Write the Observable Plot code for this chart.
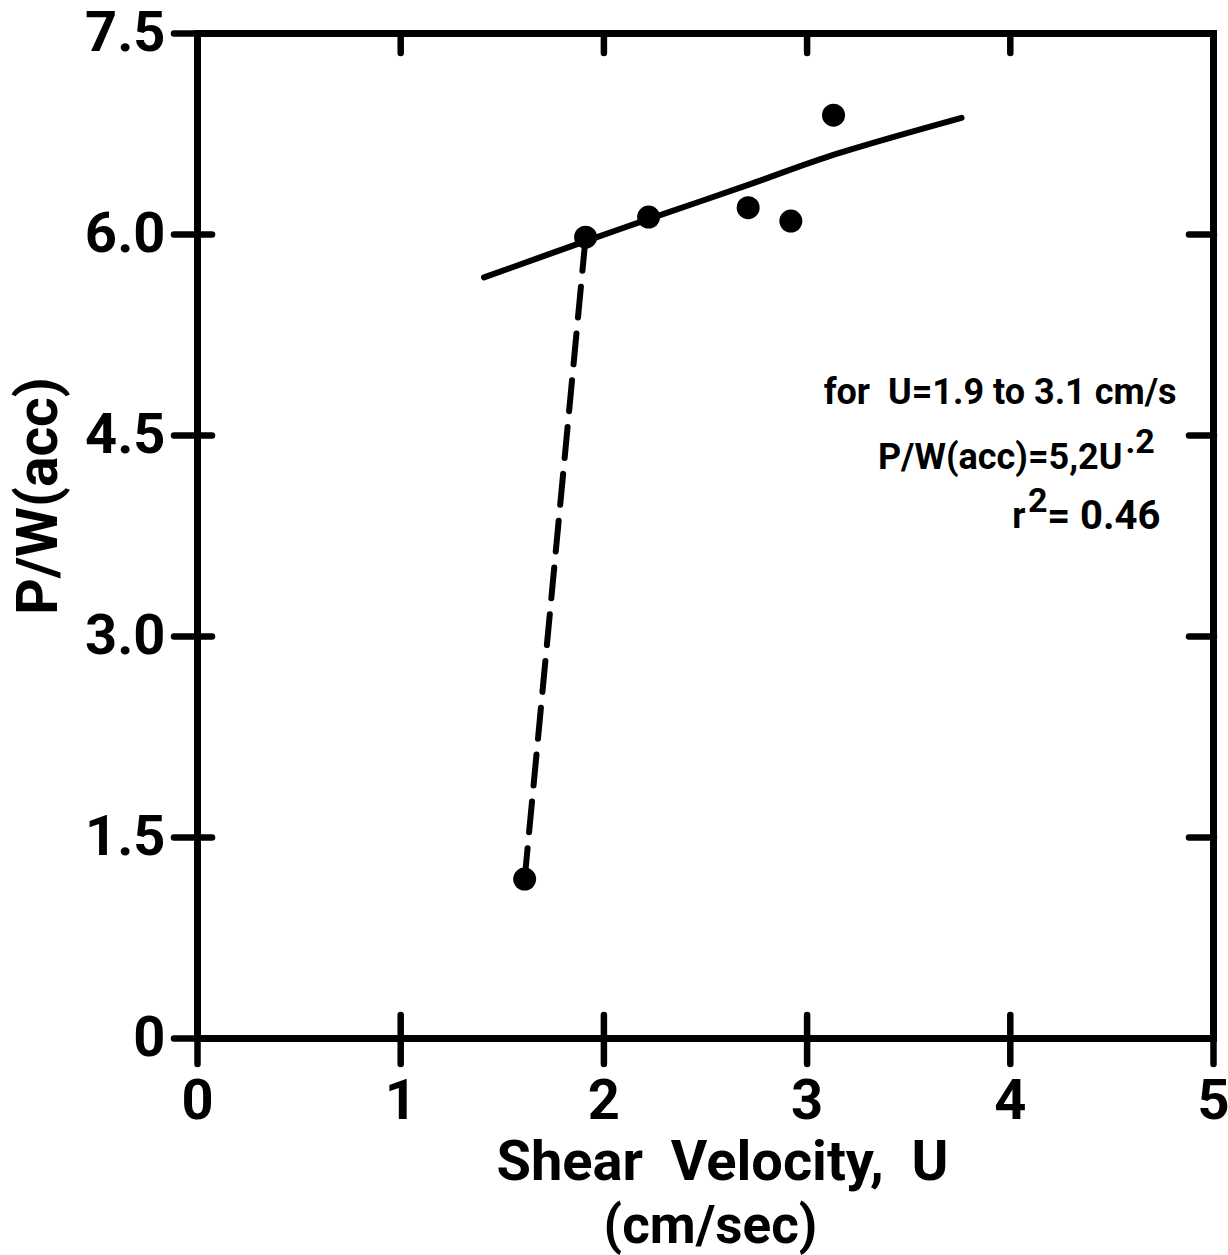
<!DOCTYPE html>
<html>
<head>
<meta charset="utf-8">
<script src="https://cdn.jsdelivr.net/npm/d3@7"></script>
<script src="https://cdn.jsdelivr.net/npm/@observablehq/plot@0.6"></script>
<style>
  body { margin: 0; background: #fff; }
  svg { display: block; }
  svg text { white-space: pre; }
</style>
</head>
<body>
<div id="chart"></div>
<script>
// Axis ticks and their labels
const xTicks = [0, 1, 2, 3, 4, 5];
const xTickLabels = ["0", "1", "2", "3", "4", "5"];
const yTicks = [0, 1.5, 3.0, 4.5, 6.0, 7.5];
const yTickLabels = ["0", "1.5", "3.0", "4.5", "6.0", "7.5"];
const innerXTicks = [1, 2, 3, 4];
const innerYTicks = [1.5, 3.0, 4.5, 6.0];

// Measured points: shear velocity U (cm/s) vs P/W(acc)
const shearU = [1.61, 1.91, 2.22, 2.71, 2.92, 3.13];
const pwAcc  = [1.19, 5.98, 6.13, 6.20, 6.10, 6.89];

// Fitted curve for U = 1.9 to 3.1 cm/s
const fitU  = [1.41, 1.91, 2.23, 2.71, 3.10, 3.76];
const fitPW = [5.68, 5.95, 6.12, 6.37, 6.58, 6.87];

// Labels
const yLabel = "P/W(acc)";
const xLabel = "Shear  Velocity,  U";
const xUnits = "(cm/sec)";
const rangeNote = "for  U=1.9 to 3.1 cm/s";
const fitFormula = "P/W(acc)=5,2U";
const fitExponent = ".2";
const rSymbol = "r";
const rExponent = "2";
const rValue = "= 0.46";

const points = shearU.map((u, i) => ({u, pw: pwAcc[i]}));
const fit = fitU.map((u, i) => ({u, pw: fitPW[i]}));
// dashed link from the low point up to the first point of the fitted range
const link = points.slice(0, 2);

const ink = "black";
const tickStyle = {strokeWidth: 6.5, strokeLinecap: "round", stroke: ink, label: null, tickFormat: () => ""};
const centred = {textAnchor: "middle", lineAnchor: "middle", fontWeight: "bold"};
const note = {frameAnchor: "top-right", lineAnchor: "middle", fontWeight: "bold", fontSize: 36};

const chart = Plot.plot({
  width: 1228,
  height: 1255,
  marginTop: 33,
  marginRight: 15,
  marginBottom: 217,
  marginLeft: 197,
  x: {domain: [0, 5]},
  y: {domain: [0, 7.5]},
  style: {fontFamily: "Roboto, sans-serif", fontWeight: "bold", background: "white", color: ink, overflow: "visible"},
  marks: [
    Plot.frame({stroke: ink, strokeWidth: 7}),
    // bottom ticks cross the axis
    Plot.axisX({...tickStyle, ticks: xTicks, anchor: "bottom", tickSize: 49, dy: -23}),
    Plot.axisX({ticks: xTicks, anchor: "bottom", tickSize: 0, tickPadding: 41, label: null,
      tickFormat: d => xTickLabels[xTicks.indexOf(d)], fontSize: 56, fontWeight: "bold"}),
    // top ticks point inward
    Plot.axisX({...tickStyle, ticks: innerXTicks, anchor: "top", tickSize: 19, dy: 19}),
    // left ticks cross the axis
    Plot.axisY({...tickStyle, ticks: yTicks, anchor: "left", tickSize: 38, dx: 15}),
    Plot.axisY({ticks: yTicks, anchor: "left", tickSize: 0, tickPadding: 32, label: null,
      tickFormat: d => yTickLabels[yTicks.indexOf(d)], fontSize: 56, fontWeight: "bold"}),
    // right ticks point inward
    Plot.axisY({...tickStyle, ticks: innerYTicks, anchor: "right", tickSize: 25, dx: -25}),

    // fitted curve
    Plot.line(fit, {x: "u", y: "pw", stroke: ink, strokeWidth: 6, strokeLinecap: "round", curve: "catmull-rom"}),
    // dashed link
    Plot.line(link, {x: "u", y: "pw", stroke: ink, strokeWidth: 6, strokeDasharray: "31,16"}),
    // data points
    Plot.dot(points, {x: "u", y: "pw", r: 11.5, fill: ink, stroke: null}),

    // axis titles
    Plot.text([yLabel], {...centred, frameAnchor: "left", rotate: -90, dx: -159, dy: -40, fontSize: 57}),
    Plot.text([xLabel], {...centred, frameAnchor: "bottom", dx: 17, dy: 124, fontSize: 56}),
    Plot.text([xUnits], {...centred, frameAnchor: "bottom", dx: 5, dy: 188, fontSize: 53}),

    // fit annotation
    Plot.text([rangeNote], {...note, textAnchor: "end", dx: -37, dy: 359}),
    Plot.text([fitFormula], {...note, textAnchor: "end", dx: -91, dy: 424}),
    Plot.text([fitExponent], {...note, textAnchor: "start", dx: -88, dy: 409, fontSize: 34}),
    Plot.text([rValue], {...note, textAnchor: "end", dx: -53, dy: 483, fontSize: 40}),
    Plot.text([rExponent], {...note, textAnchor: "end", dx: -166, dy: 468, fontSize: 34}),
    Plot.text([rSymbol], {...note, textAnchor: "end", dx: -188, dy: 483})
  ]
});

document.getElementById("chart").append(chart);
</script>
</body>
</html>
